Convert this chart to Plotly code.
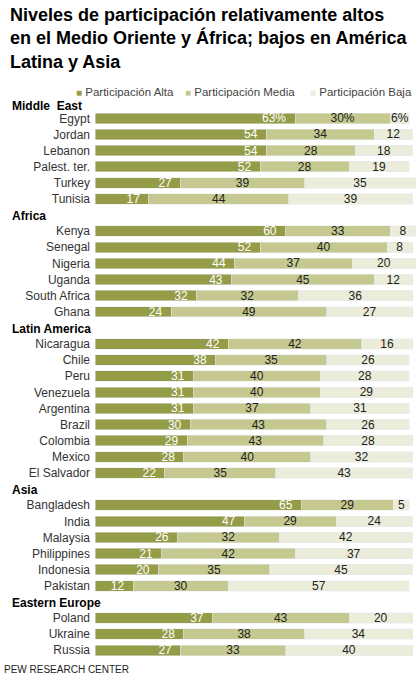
import plotly.graph_objects as go

title_lines = ["Niveles de participación relativamente altos",
               "en el Medio Oriente y África; bajos en América",
               "Latina y Asia"]
series_names = ["Participación Alta", "Participación Media", "Participación Baja"]
regions = ["Middle  East", "Africa", "Latin America", "Asia", "Eastern Europe"]
region_of = (["Middle  East"] * 6 + ["Africa"] * 6 + ["Latin America"] * 9
             + ["Asia"] * 6 + ["Eastern Europe"] * 3)
countries = ["Egypt", "Jordan", "Lebanon", "Palest. ter.", "Turkey", "Tunisia",
             "Kenya", "Senegal", "Nigeria", "Uganda", "South Africa", "Ghana",
             "Nicaragua", "Chile", "Peru", "Venezuela", "Argentina", "Brazil",
             "Colombia", "Mexico", "El Salvador",
             "Bangladesh", "India", "Malaysia", "Philippines", "Indonesia", "Pakistan",
             "Poland", "Ukraine", "Russia"]
alta = [63, 54, 54, 52, 27, 17,
        60, 52, 44, 43, 32, 24,
        42, 38, 31, 31, 31, 30, 29, 28, 22,
        65, 47, 26, 21, 20, 12,
        37, 28, 27]
media = [30, 34, 28, 28, 39, 44,
         33, 40, 37, 45, 32, 49,
         42, 35, 40, 40, 37, 43, 43, 40, 35,
         29, 29, 32, 42, 35, 30,
         43, 38, 33]
baja = [6, 12, 18, 19, 35, 39,
        8, 8, 20, 12, 36, 27,
        16, 26, 28, 29, 31, 26, 28, 32, 43,
        5, 24, 42, 37, 45, 57,
        20, 34, 40]
source = "PEW RESEARCH CENTER"

colors = ["#949C48", "#C5C98F", "#EBECDA"]

# slot positions (a blank slot before each new region)
ys = []
header_y = {}
k = 0
prev = None
for r in region_of:
    if prev is not None and r != prev:
        k += 1
    if r != prev:
        header_y[r] = k - (0.75 if prev is None else 0.95)
    ys.append(k)
    k += 1
    prev = r

def lab(vals, pct_first=True, pad=""):
    out = []
    for i, v in enumerate(vals):
        s = f"{v}%" if (i == 0 and pct_first) else f"{v}"
        out.append(s + pad)
    return out

W, H = 416, 676
L = 95
scale = 3.175
pitch = 16.12
y0px = 118.3

fig = go.Figure()
fig.add_trace(go.Bar(y=ys, x=alta, orientation="h", marker_color=colors[0],
                     name=series_names[0], text=lab(alta, pad="\u2002"),
                     textposition="inside", insidetextanchor="end", textangle=0,
                     constraintext="none",
                     textfont=dict(color="white", size=12, family="Liberation Sans"),
                     width=0.65, hoverinfo="skip"))
fig.add_trace(go.Bar(y=ys, x=media, orientation="h", marker_color=colors[1],
                     name=series_names[1], text=lab(media),
                     textposition="inside", insidetextanchor="middle", textangle=0,
                     constraintext="none",
                     textfont=dict(color="#222222", size=12, family="Liberation Sans"),
                     width=0.65, hoverinfo="skip"))
fig.add_trace(go.Bar(y=ys, x=baja, orientation="h", marker_color=colors[2],
                     name=series_names[2], text=lab(baja),
                     textposition="inside", insidetextanchor="middle", textangle=0,
                     constraintext="none",
                     textfont=dict(color="#222222", size=12, family="Liberation Sans"),
                     width=0.65, hoverinfo="skip"))

annotations = []
annotations.append(dict(xref="paper", yref="paper", x=(8 - L) / (W - L), y=1 - 3 / H,
                        xanchor="left", yanchor="top", align="left", showarrow=False,
                        text="<b>" + "<br>".join(title_lines) + "</b>",
                        font=dict(size=18, color="black", family="Liberation Sans")))
for r in regions:
    annotations.append(dict(xref="paper", yref="y", x=(10 - L) / (W - L), y=header_y[r],
                            xanchor="left", yanchor="middle", showarrow=False,
                            text="<b>" + r + "</b>",
                            font=dict(size=12, color="black", family="Liberation Sans")))
leg_x = [74, 183, 308]
for nm, c, lx in zip(series_names, colors, leg_x):
    annotations.append(dict(xref="paper", yref="paper", x=(lx - L) / (W - L), y=1 - 92 / H,
                            xanchor="left", yanchor="middle", showarrow=False,
                            text=f"<span style='color:{c};font-size:10px'>■</span> {nm}",
                            font=dict(size=11.5, color="#444444", family="Liberation Sans")))
annotations.append(dict(xref="paper", yref="paper", x=(2 - L) / (W - L), y=1 - 669 / H,
                        xanchor="left", yanchor="middle", showarrow=False,
                        text=source,
                        font=dict(size=10, color="#222222", family="Liberation Sans")))

fig.update_layout(
    width=W, height=H, barmode="stack", showlegend=False,
    margin=dict(l=L, r=0, t=0, b=0),
    paper_bgcolor="white", plot_bgcolor="white",
    annotations=annotations,
    uniformtext=dict(minsize=12, mode="show"),
    xaxis=dict(range=[0, (W - L) / scale], visible=False, fixedrange=True),
    yaxis=dict(range=[(H - y0px) / pitch, -y0px / pitch], tickvals=ys, ticktext=countries,
               showgrid=False, zeroline=False, showline=False, ticks="",
               ticklabelstandoff=4,
               tickfont=dict(size=12, color="#333333", family="Liberation Sans")),
)
fig.write_html("out.html")
